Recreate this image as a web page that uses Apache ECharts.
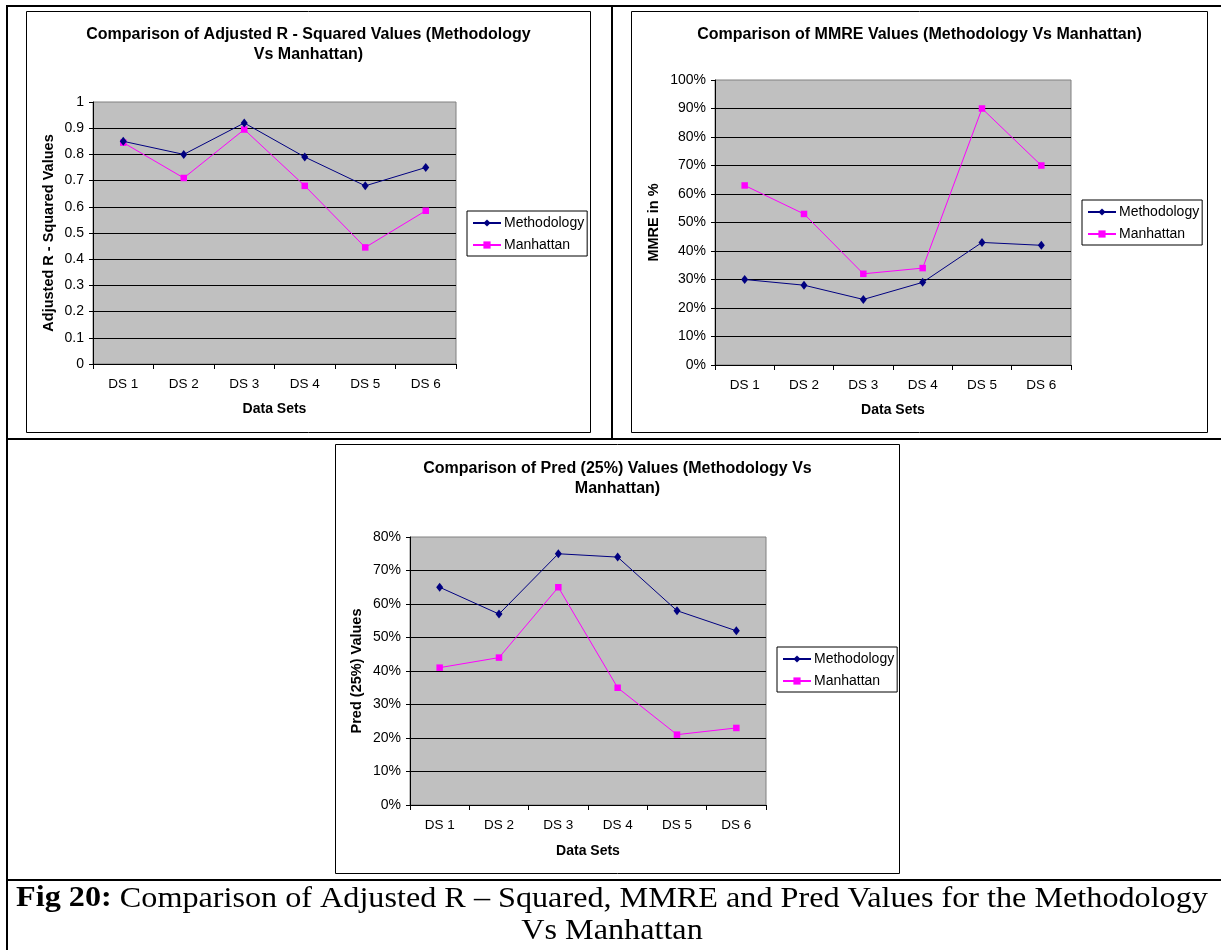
<!DOCTYPE html>
<html><head><meta charset="utf-8">
<script src="https://cdn.jsdelivr.net/npm/echarts@6/dist/echarts.min.js"></script>
<style>html,body{margin:0;padding:0;background:#fff}#c{width:1221px;height:950px}</style>
</head><body><div id="c"></div>
<script>
// ---------- data ----------
const categories = ['DS 1', 'DS 2', 'DS 3', 'DS 4', 'DS 5', 'DS 6'];
const seriesNames = ['Methodology', 'Manhattan'];
const adjR2Methodology = [0.85, 0.80, 0.92, 0.79, 0.68, 0.75];
const adjR2Manhattan = [0.845, 0.71, 0.895, 0.68, 0.445, 0.585];
const mmreMethodology = [30, 28, 23, 29, 43, 42];
const mmreManhattan = [63, 53, 32, 34, 90, 70];
const predMethodology = [65, 57, 75, 74, 58, 52];
const predManhattan = [41, 44, 65, 35, 21, 23];
const adjR2Ticks = ['0', '0.1', '0.2', '0.3', '0.4', '0.5', '0.6', '0.7', '0.8', '0.9', '1'];
const mmreTicks = ['0%', '10%', '20%', '30%', '40%', '50%', '60%', '70%', '80%', '90%', '100%'];
const predTicks = ['0%', '10%', '20%', '30%', '40%', '50%', '60%', '70%', '80%'];
const chartTitles = [
  'Comparison of Adjusted R - Squared Values (Methodology\nVs Manhattan)',
  'Comparison of MMRE Values (Methodology Vs Manhattan)',
  'Comparison of Pred (25%) Values (Methodology Vs\nManhattan)'
];
const yAxisNames = ['Adjusted R - Squared Values', 'MMRE in %', 'Pred (25%) Values'];
const xAxisName = 'Data Sets';
const captionBold = 'Fig 20:';
const captionRest = ' Comparison of Adjusted R \u2013 Squared, MMRE and Pred Values for the Methodology';
const captionLine2 = 'Vs Manhattan';

// ---------- layout ----------
const FONT = '"Liberation Sans", Arial, Helvetica, sans-serif';
const SERIF = '"Liberation Serif", "Times New Roman", serif';
const panels = [
  { grid: { left: 93, top: 102, width: 363, height: 262 }, max: 1, step: 0.1, ticks: adjR2Ticks,
    m: adjR2Methodology, h: adjR2Manhattan, yGap: 37, xGap: 38, legend: { left: 467, top: 211 },
    title: { x: 308.5, y: 45 }, box: [26.5, 11.5, 564, 421] },
  { grid: { left: 715, top: 80, width: 356, height: 285 }, max: 100, step: 10, ticks: mmreTicks,
    m: mmreMethodology, h: mmreManhattan, yGap: 54, xGap: 38, legend: { left: 1082, top: 200 },
    title: { x: 919.5, y: 35 }, box: [631.5, 11.5, 576, 421] },
  { grid: { left: 410, top: 537, width: 356, height: 268 }, max: 80, step: 10, ticks: predTicks,
    m: predMethodology, h: predManhattan, yGap: 46, xGap: 39, legend: { left: 777, top: 647 },
    title: { x: 617.5, y: 479 }, box: [335.5, 444.5, 564, 429] }
];

const grids = [], xAxes = [], yAxes = [], legends = [], series = [], graphics = [];
panels.forEach((p, i) => {
  grids.push(Object.assign({ show: true, backgroundColor: '#C0C0C0', borderColor: '#808080', borderWidth: 1 }, p.grid));
  xAxes.push({
    type: 'category', gridIndex: i, data: categories, boundaryGap: true,
    name: xAxisName, nameLocation: 'middle', nameGap: p.xGap,
    nameTextStyle: { fontFamily: FONT, fontWeight: 'bold', fontSize: 14, color: '#000' },
    axisLine: { show: true, lineStyle: { color: '#000', width: 1 } },
    axisTick: { show: true, length: 5, lineStyle: { color: '#000' } },
    axisLabel: { fontFamily: FONT, fontSize: 13.5, color: '#000', margin: 13 },
    splitLine: { show: false }
  });
  const ticks = p.ticks, step = p.step;
  yAxes.push({
    type: 'value', gridIndex: i, min: 0, max: p.max, interval: step,
    name: yAxisNames[i], nameLocation: 'middle', nameGap: p.yGap, nameRotate: 90,
    nameTextStyle: { fontFamily: FONT, fontWeight: 'bold', fontSize: 14.5, color: '#000' },
    axisLine: { show: true, lineStyle: { color: '#000', width: 1 } },
    axisTick: { show: true, length: 4, lineStyle: { color: '#000' } },
    axisLabel: { fontFamily: FONT, fontSize: 14, color: '#000', margin: 9,
      formatter: v => ticks[Math.round(v / step)] },
    splitLine: { show: true, showMaxLine: false, lineStyle: { color: '#000', width: 1 } }
  });
  legends.push({
    orient: 'vertical', left: p.legend.left, top: p.legend.top,
    data: seriesNames, itemWidth: 28, itemHeight: 9, itemGap: 8,
    padding: [5, 3, 4, 5], borderColor: '#000', borderWidth: 1, backgroundColor: '#fff',
    textStyle: { fontFamily: FONT, fontSize: 14, color: '#000', padding: [0, 0, 0, -2], lineHeight: 14 },
    selectedMode: false
  });
  series.push({
    name: seriesNames[0], type: 'line', xAxisIndex: i, yAxisIndex: i, data: p.m,
    symbol: 'diamond', symbolSize: [7, 9], color: '#000080',
    lineStyle: { color: '#000080', width: 1 }, itemStyle: { color: '#000080' }, z: 3
  });
  series.push({
    name: seriesNames[1], type: 'line', xAxisIndex: i, yAxisIndex: i, data: p.h,
    symbol: 'rect', symbolSize: 6.5, color: '#FF00FF',
    lineStyle: { color: '#FF00FF', width: 1 }, itemStyle: { color: '#FF00FF' }, z: 2
  });
  graphics.push({ type: 'rect', shape: { x: p.box[0], y: p.box[1], width: p.box[2], height: p.box[3] },
    style: { fill: 'none', stroke: '#000', lineWidth: 1 } });
  graphics.push({ type: 'text', x: p.title.x, y: p.title.y,
    style: { text: chartTitles[i], align: 'center', verticalAlign: 'middle', lineHeight: 20,
      fontFamily: FONT, fontWeight: 'bold', fontSize: 16, fill: '#000' } });
});

// table lines
[[6, 5, 1215, 2], [6, 5, 2, 945], [611, 5, 2, 435], [6, 438, 1215, 2], [6, 879, 1215, 2]].forEach(r => {
  graphics.push({ type: 'rect', shape: { x: r[0], y: r[1], width: r[2], height: r[3] }, style: { fill: '#000' } });
});
// caption
graphics.push({ type: 'text', x: 612, y: 899, scaleX: 1.11, scaleY: 1,
  style: { text: '{b|' + captionBold + '}{n|' + captionRest + '}', align: 'center', verticalAlign: 'middle',
    rich: { b: { fontFamily: SERIF, fontWeight: 'bold', fontSize: 29, fill: '#000' },
            n: { fontFamily: SERIF, fontSize: 29, fill: '#000' } } } });
graphics.push({ type: 'text', x: 612, y: 931, scaleX: 1.11, scaleY: 1,
  style: { text: captionLine2, align: 'center', verticalAlign: 'middle',
    fontFamily: SERIF, fontSize: 29, fill: '#000' } });

const chart = echarts.init(document.getElementById('c'), null, { renderer: 'canvas' });
chart.setOption({
  animation: false,
  backgroundColor: '#fff',
  grid: grids, xAxis: xAxes, yAxis: yAxes, legend: legends, series: series,
  graphic: { elements: graphics }
});
</script>
</body></html>
